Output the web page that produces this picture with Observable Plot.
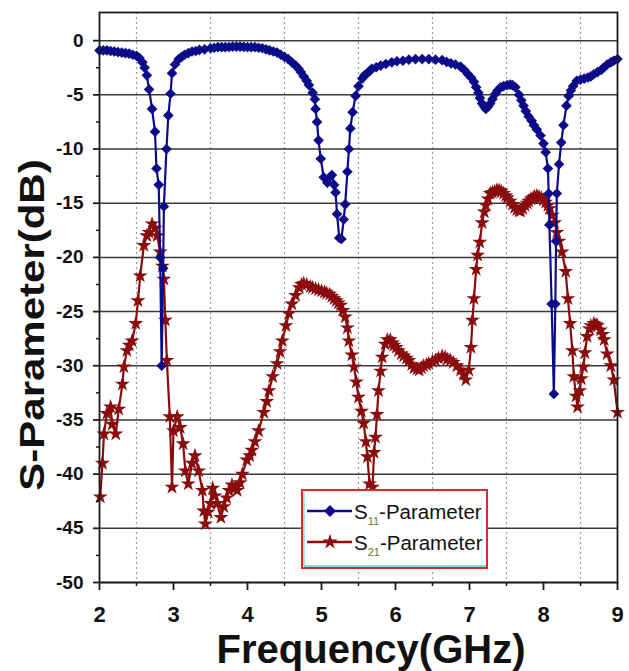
<!DOCTYPE html>
<html>
<head>
<meta charset="utf-8">
<script src="https://cdn.jsdelivr.net/npm/d3@7"></script>
<script src="https://cdn.jsdelivr.net/npm/@observablehq/plot@0.6"></script>
<style>
  html, body { margin: 0; padding: 0; background: #fff; }
  #chart { width: 629px; height: 671px; }
</style>
</head>
<body>
<div id="chart"></div>
<script>
// ---- data ----
const freqS11 = [2.00,2.05,2.10,2.15,2.20,2.25,2.30,2.35,2.40,2.45,2.50,2.54,2.58,2.61,2.64,2.67,2.71,2.75,2.77,2.80,2.82,2.84,2.86,2.87,2.905,2.93,2.96,2.98,3.02,3.07,3.11,3.15,3.20,3.25,3.30,3.35,3.42,3.50,3.55,3.60,3.65,3.70,3.75,3.80,3.85,3.90,3.95,4.00,4.05,4.10,4.15,4.20,4.25,4.30,4.35,4.40,4.45,4.50,4.55,4.60,4.65,4.69,4.72,4.76,4.80,4.83,4.88,4.91,4.92,4.94,4.96,4.99,5.03,5.08,5.11,5.14,5.17,5.19,5.21,5.24,5.27,5.30,5.32,5.35,5.37,5.39,5.42,5.46,5.50,5.55,5.58,5.62,5.65,5.68,5.74,5.80,5.87,5.95,6.02,6.10,6.18,6.27,6.36,6.45,6.54,6.63,6.69,6.75,6.81,6.88,6.93,6.98,7.02,7.06,7.09,7.12,7.14,7.17,7.20,7.22,7.25,7.28,7.31,7.35,7.38,7.42,7.46,7.51,7.55,7.58,7.62,7.67,7.70,7.73,7.76,7.80,7.84,7.87,7.91,7.96,8.00,8.03,8.06,8.07,8.08,8.11,8.14,8.16,8.17,8.18,8.21,8.24,8.27,8.31,8.34,8.37,8.40,8.45,8.50,8.55,8.60,8.64,8.68,8.73,8.78,8.82,8.86,8.91,8.95,9.00];
const s11 = [-0.9,-0.9,-0.9,-0.95,-1.0,-1.05,-1.1,-1.15,-1.2,-1.3,-1.4,-1.6,-2.0,-2.5,-3.2,-4.5,-6.3,-8.4,-11.8,-13.3,-20.0,-30.0,-21.0,-15.3,-10.0,-6.9,-4.9,-3.0,-2.2,-1.7,-1.5,-1.3,-1.15,-1.0,-0.95,-0.85,-0.8,-0.7,-0.65,-0.6,-0.6,-0.6,-0.58,-0.55,-0.55,-0.55,-0.57,-0.6,-0.6,-0.6,-0.65,-0.7,-0.8,-0.9,-1.0,-1.1,-1.3,-1.5,-1.7,-2.0,-2.3,-2.6,-2.9,-3.3,-3.7,-4.1,-4.8,-5.4,-6.3,-7.5,-9.2,-10.9,-12.6,-13.1,-12.6,-12.4,-13.3,-14.0,-16.0,-18.2,-18.3,-16.5,-15.1,-12.1,-10.0,-8.1,-6.6,-5.1,-4.2,-3.5,-3.2,-3.0,-2.8,-2.6,-2.45,-2.3,-2.15,-2.0,-1.9,-1.85,-1.75,-1.7,-1.7,-1.7,-1.75,-1.8,-1.95,-2.1,-2.2,-2.4,-2.7,-3.1,-3.4,-3.8,-4.3,-4.8,-5.3,-5.8,-6.1,-6.3,-6.1,-5.8,-5.4,-4.9,-4.6,-4.3,-4.2,-4.1,-4.05,-4.1,-4.3,-5.0,-5.5,-6.0,-6.5,-7.0,-7.4,-7.8,-8.2,-8.75,-9.5,-10.3,-11.8,-14.1,-17.0,-24.3,-32.6,-24.3,-18.5,-14.1,-11.4,-9.4,-7.8,-6.0,-5.1,-4.6,-4.2,-3.7,-3.6,-3.5,-3.4,-3.3,-3.1,-2.9,-2.7,-2.45,-2.2,-2.0,-1.85,-1.7];

const freqS21 = [2.01,2.04,2.06,2.10,2.15,2.17,2.22,2.26,2.31,2.33,2.37,2.40,2.44,2.49,2.52,2.55,2.60,2.64,2.67,2.71,2.75,2.78,2.82,2.85,2.87,2.89,2.91,2.95,2.98,3.00,3.05,3.09,3.13,3.16,3.20,3.25,3.29,3.34,3.39,3.41,3.43,3.47,3.50,3.53,3.56,3.59,3.64,3.68,3.72,3.75,3.79,3.83,3.86,3.90,3.93,3.99,4.03,4.06,4.10,4.15,4.22,4.26,4.29,4.34,4.40,4.44,4.47,4.52,4.56,4.60,4.65,4.70,4.73,4.76,4.80,4.85,4.88,4.92,4.96,5.00,5.04,5.07,5.11,5.14,5.17,5.20,5.23,5.26,5.29,5.32,5.35,5.37,5.41,5.44,5.47,5.50,5.54,5.57,5.60,5.62,5.65,5.69,5.71,5.73,5.75,5.77,5.80,5.82,5.86,5.89,5.93,5.96,5.98,6.01,6.04,6.08,6.11,6.15,6.18,6.22,6.25,6.29,6.32,6.35,6.38,6.42,6.45,6.50,6.54,6.58,6.63,6.67,6.70,6.74,6.78,6.83,6.88,6.92,6.95,6.99,7.02,7.04,7.06,7.09,7.11,7.14,7.17,7.20,7.22,7.25,7.28,7.31,7.34,7.37,7.40,7.43,7.46,7.49,7.51,7.55,7.58,7.61,7.64,7.67,7.69,7.72,7.75,7.78,7.80,7.83,7.86,7.88,7.91,7.94,7.97,8.00,8.03,8.06,8.08,8.12,8.15,8.18,8.21,8.25,8.30,8.33,8.36,8.39,8.41,8.44,8.46,8.49,8.51,8.54,8.56,8.59,8.62,8.64,8.68,8.71,8.73,8.77,8.80,8.82,8.86,8.91,8.95,9.00];
const s21 = [-42.1,-39.0,-36.3,-34.4,-33.8,-35.4,-36.3,-34.0,-31.7,-30.1,-28.6,-28.1,-27.7,-26.1,-24.0,-21.7,-18.9,-18.0,-17.7,-16.9,-17.3,-18.0,-19.5,-20.8,-22.0,-25.8,-29.5,-34.7,-41.2,-36.0,-34.7,-35.7,-37.2,-39.7,-40.9,-39.0,-38.3,-39.7,-41.5,-43.4,-44.6,-43.5,-42.7,-41.3,-42.0,-42.7,-44.0,-43.0,-42.2,-41.5,-41.0,-41.3,-41.5,-40.8,-40.0,-38.7,-38.3,-37.8,-37.0,-36.0,-34.3,-33.3,-32.3,-31.0,-29.8,-28.7,-27.7,-26.3,-25.2,-24.3,-23.5,-22.8,-22.5,-22.4,-22.5,-22.7,-22.8,-22.9,-23.0,-23.1,-23.2,-23.3,-23.4,-23.6,-23.8,-24.0,-24.2,-24.4,-24.9,-25.5,-26.5,-27.7,-29.0,-30.1,-31.5,-32.9,-34.2,-35.3,-37.0,-38.4,-40.9,-41.2,-38.0,-36.6,-34.5,-32.3,-30.5,-29.2,-28.0,-27.6,-27.6,-27.9,-28.1,-28.3,-28.6,-28.9,-29.1,-29.3,-29.5,-29.9,-30.2,-30.3,-30.4,-30.2,-30.0,-29.9,-29.8,-29.6,-29.5,-29.3,-29.1,-29.2,-29.4,-29.5,-29.7,-30.0,-30.4,-30.8,-31.3,-30.4,-28.3,-25.8,-23.8,-21.1,-19.8,-18.6,-16.8,-15.8,-15.2,-14.6,-14.1,-14.0,-13.9,-13.8,-13.8,-13.9,-14.1,-14.3,-14.5,-14.8,-15.1,-15.4,-15.6,-15.7,-15.7,-15.5,-15.2,-15.0,-14.8,-14.6,-14.5,-14.4,-14.3,-14.4,-14.5,-14.7,-14.9,-15.2,-15.5,-16.1,-16.8,-17.7,-18.5,-19.5,-21.3,-23.8,-26.1,-28.6,-31.0,-32.8,-33.8,-32.3,-31.2,-30.1,-28.8,-27.3,-26.6,-26.3,-26.1,-26.2,-26.3,-26.7,-27.1,-27.6,-28.9,-30.0,-31.3,-34.3];

const yTicks = [0,-5,-10,-15,-20,-25,-30,-35,-40,-45,-50];
const yMinorTicks = [-2.5,-7.5,-12.5,-17.5,-22.5,-27.5,-32.5,-37.5,-42.5,-47.5];
const xTicks = [2,3,4,5,6,7,8,9];
const xMinorTicks = [2.5,3.5,4.5,5.5,6.5,7.5,8.5];
const seriesNames = ["S11-Parameter","S21-Parameter"];
const xTitle = "Frequency(GHz)";
const yTitle = "S-Parameter(dB)";

const blue = "#0c0c8a";
const red = "#8a0c0c";
const FONT = "'Liberation Sans', Arial, sans-serif";

const d11 = freqS11.map((f,i) => ({f, v: s11[i]}));
const d21 = freqS21.map((f,i) => ({f, v: s21[i]}));

const chart = Plot.plot({
  width: 629,
  height: 671,
  marginLeft: 99,
  marginRight: 12,
  marginTop: 12,
  marginBottom: 89,
  style: {fontFamily: FONT, background: "#fff", color: "#111"},
  x: {domain: [2, 9]},
  y: {domain: [-50, 2.6]},
  marks: [
    Plot.gridX(xMinorTicks, {stroke: "#9a9a9a", strokeOpacity: 1, strokeWidth: 1.2, strokeDasharray: "2,3"}),
    Plot.gridY(yTicks, {stroke: "#3a3a3a", strokeOpacity: 1, strokeWidth: 1.5}),
    Plot.line(d21, {x: "f", y: "v", stroke: red, strokeWidth: 2.2}),
    Plot.dot(d21, {x: "f", y: "v", symbol: "star", fill: red, r: 4.7}),
    Plot.line(d11, {x: "f", y: "v", stroke: blue, strokeWidth: 2.2}),
    Plot.dot(d11, {x: "f", y: "v", symbol: "diamond2", fill: blue, r: 4.8}),
    Plot.frame({stroke: "#1a1a1a", strokeWidth: 1.8}),
    Plot.axisY(yTicks, {tickSize: 6, tickPadding: 10, fontSize: 19, fontWeight: "bold", tickFormat: d => String(d), label: null, stroke: "#1a1a1a", strokeWidth: 1.8}),
    Plot.axisY(yMinorTicks, {tickSize: 3, text: null, label: null, stroke: "#1a1a1a", strokeWidth: 1.5}),
    Plot.axisX(xTicks, {tickSize: 8, tickPadding: 16, fontSize: 22, fontWeight: "bold", tickFormat: d => String(d), label: null, stroke: "#1a1a1a", strokeWidth: 1.8}),
    Plot.axisX(xMinorTicks, {tickSize: 4, text: null, label: null, stroke: "#1a1a1a", strokeWidth: 1.5})
  ]
});

document.getElementById("chart").appendChild(chart);

// ---- titles and legend (annotation layer) ----
const svg = d3.select(chart);

svg.append("text")
  .attr("x", 371).attr("y", 663)
  .attr("text-anchor", "middle")
  .attr("font-family", FONT).attr("font-weight", "bold").attr("font-size", 40)
  .attr("fill", "#111")
  .text(xTitle);

svg.append("text")
  .attr("transform", "translate(44,325) rotate(-90) scale(1,0.83)")
  .attr("text-anchor", "middle")
  .attr("font-family", FONT).attr("font-weight", "bold").attr("font-size", 42)
  .attr("fill", "#111")
  .text(yTitle);

const lg = svg.append("g").attr("text-anchor", "start");
lg.append("rect").attr("x", 302).attr("y", 490).attr("width", 185).attr("height", 78)
  .attr("fill", "#fff").attr("stroke", "#e2262a").attr("stroke-width", 2);
lg.append("line").attr("x1", 304).attr("x2", 486).attr("y1", 566).attr("y2", 566)
  .attr("stroke", "#33e0e0").attr("stroke-width", 1.5);
lg.append("line").attr("x1", 304).attr("x2", 304).attr("y1", 492).attr("y2", 566)
  .attr("stroke", "#33e0e0").attr("stroke-width", 1);

const rows = [
  {name: seriesNames[0], color: blue, sym: d3.symbolDiamond2, size: 90, y: 511},
  {name: seriesNames[1], color: red, sym: d3.symbolStar, size: 75, y: 542}
];
rows.forEach(r => {
  lg.append("line").attr("x1", 307).attr("x2", 352).attr("y1", r.y).attr("y2", r.y)
    .attr("stroke", r.color).attr("stroke-width", 2.5);
  lg.append("path").attr("d", d3.symbol(r.sym, r.size)())
    .attr("transform", `translate(330,${r.y})`).attr("fill", r.color);
  const t = lg.append("text").attr("x", 354).attr("y", r.y + 8)
    .attr("text-anchor", "start")
    .attr("font-family", FONT).attr("font-size", 20.5).attr("fill", "#111");
  t.append("tspan").text(r.name.slice(0, 1));
  t.append("tspan").attr("font-size", 11).attr("dy", 6).attr("fill", "#6a7a20").text(r.name.slice(1, 3));
  t.append("tspan").attr("dy", -6).text(r.name.slice(3));
});
</script>
</body>
</html>
